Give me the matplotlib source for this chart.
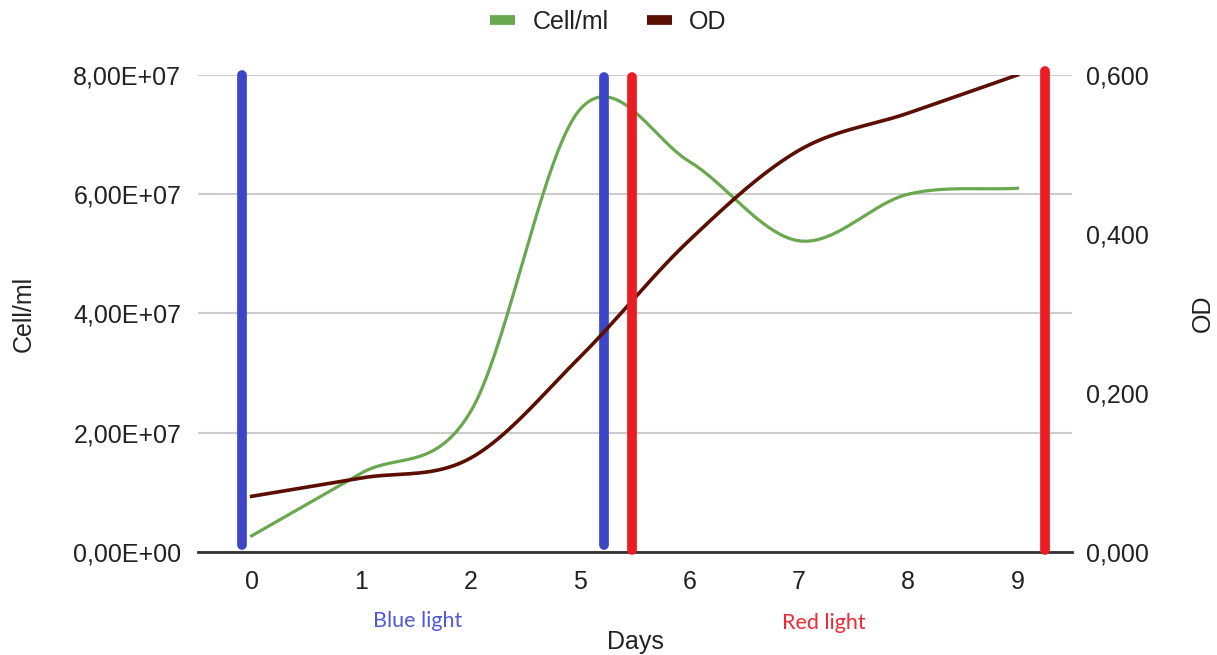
import numpy as np
import matplotlib
matplotlib.use("Agg")
import matplotlib.pyplot as plt
from matplotlib.ticker import FuncFormatter
from matplotlib.lines import Line2D

# data
days = ["0", "1", "2", "5", "6", "7", "8", "9"]
cells = [2.7e6, 1.32e7, 2.35e7, 7.42e7, 6.55e7, 5.22e7, 6.0e7, 6.1e7]
od = [0.070, 0.093, 0.118, 0.245, 0.392, 0.505, 0.552, 0.600]

# hand-drawn light periods, in category-index units
blue_light = [-0.09, 3.22]
red_light = [3.48, 7.25]


def smooth(y, n=40):
    # catmull-rom style curve through the points (like the sheets "smooth" option)
    y = np.asarray(y, dtype=float)
    x = np.arange(len(y))
    m = np.zeros_like(y)
    m[1:-1] = (y[2:] - y[:-2]) / 2
    m[0] = y[1] - y[0]
    m[-1] = y[-1] - y[-2]
    xs, ys = [], []
    for i in range(len(y) - 1):
        t = np.linspace(0, 1, n, endpoint=False)
        h00 = 2 * t**3 - 3 * t**2 + 1
        h10 = t**3 - 2 * t**2 + t
        h01 = -2 * t**3 + 3 * t**2
        h11 = t**3 - t**2
        xs.append(x[i] + t)
        ys.append(h00 * y[i] + h10 * m[i] + h01 * y[i + 1] + h11 * m[i + 1])
    xs.append([x[-1]])
    ys.append([y[-1]])
    return np.concatenate(xs), np.concatenate(ys)


plt.rcParams['font.family'] = ['Liberation Sans', 'DejaVu Sans']

green = '#6aa84f'
darkred = '#5b0f00'
grid_c = '#cccccc'
txt_c = '#222222'

fig = plt.figure(figsize=(12.17, 6.55), dpi=100)
ax = fig.add_axes([0.1627, 0.1573, 0.7183, 0.7282])
ax2 = ax.twinx()

xi = np.arange(len(days))

ax.set_xlim(-0.49, 7.5)
ax.set_ylim(0, 8e7)
ax2.set_ylim(0, 0.6)

ax.set_yticks([0, 2e7, 4e7, 6e7, 8e7])
ax2.set_yticks([0, 0.2, 0.4, 0.6])
ax.yaxis.set_major_formatter(FuncFormatter(lambda v, p: f"{v:.2E}".replace('.', ',')))
ax2.yaxis.set_major_formatter(FuncFormatter(lambda v, p: f"{v:.3f}".replace('.', ',')))
ax.set_xticks(xi)
ax.set_xticklabels(days)

ax.grid(axis='y', color=grid_c, linewidth=1.5)
ax.set_axisbelow(True)
for a in (ax, ax2):
    for s in a.spines.values():
        s.set_visible(False)
    a.tick_params(length=0, labelsize=18, colors=txt_c)
ax.spines['bottom'].set_visible(True)
ax.spines['bottom'].set_color('#333333')
ax.spines['bottom'].set_linewidth(2)
ax.spines['bottom'].set_zorder(5)
ax.tick_params(axis='x', pad=13)
ax.tick_params(axis='y', pad=12)
ax2.tick_params(axis='y', pad=10)

sx, sy = smooth(cells)
ax.plot(sx, sy, color=green, linewidth=2.3, zorder=3)
ox, oy = smooth(od)
ax2.plot(ox, oy, color=darkred, linewidth=2.6, zorder=3)

# light period marks
ax.plot([blue_light[0]] * 2, [1.2e6, 8e7], color='#3c46c8', linewidth=7,
        solid_capstyle='round', zorder=4, clip_on=False)
ax.plot([blue_light[1]] * 2, [1.2e6, 7.96e7], color='#3c46c8', linewidth=7,
        solid_capstyle='round', zorder=4, clip_on=False)
ax2.plot([red_light[0]] * 2, [0.003, 0.597], color='#ec1c24', linewidth=7,
         solid_capstyle='round', zorder=4, clip_on=False)
ax2.plot([red_light[1]] * 2, [0.003, 0.605], color='#ec1c24', linewidth=7,
         solid_capstyle='round', zorder=4, clip_on=False)

ax.set_xlabel("Days", fontsize=18, color=txt_c, labelpad=26)
ax.set_ylabel("Cell/ml", fontsize=18, color=txt_c, labelpad=27)
ax2.set_ylabel("OD", fontsize=18, color=txt_c, labelpad=30)

fig.text(418 / 1217, 1 - 621 / 655, "Blue light", color='#4f59d6', fontsize=15.5,
         family=['Lato', 'DejaVu Sans'], ha='center', va='center')
fig.text(824 / 1217, 1 - 623 / 655, "Red light", color='#ee2a36', fontsize=15.5,
         family=['Lato', 'DejaVu Sans'], ha='center', va='center')

handles = [Line2D([], [], color=green, linewidth=7, solid_capstyle='butt'),
           Line2D([], [], color=darkred, linewidth=7, solid_capstyle='butt')]
fig.legend(handles, ["Cell/ml", "OD"], loc='center', bbox_to_anchor=(0.5, 1 - 22 / 655),
           ncol=2, frameon=False, fontsize=18, handlelength=1.0, columnspacing=1.5,
           handletextpad=0.7, labelcolor=txt_c)

fig.savefig("out.png", dpi=100)
